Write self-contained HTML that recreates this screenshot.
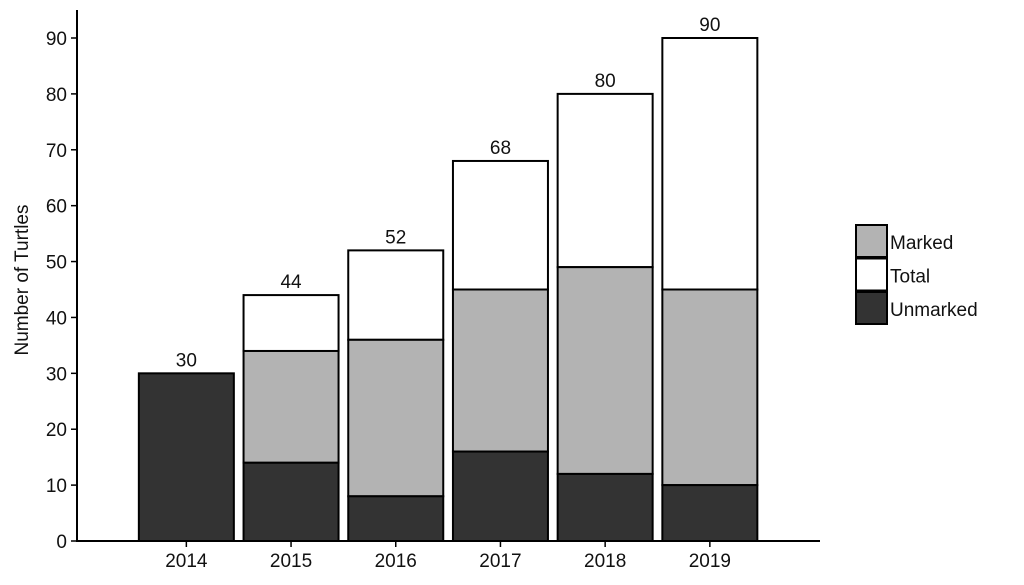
<!DOCTYPE html>
<html><head><meta charset="utf-8"><style>
body{margin:0;background:#fff;}
svg{display:block;font-family:"Liberation Sans",Arial,sans-serif;}
</style></head><body>
<svg id="chart" width="1024" height="585" viewBox="0 0 1024 585">
<g id="bars"></g>
<g id="axes"></g>
<g id="legend"></g>
</svg>
<script>
const years=["2014","2015","2016","2017","2018","2019"];
const unmarked=[30,14,8,16,12,10];
const marked=[0,20,28,29,37,35];
const totals=[30,44,52,68,80,90];
const yTicks=[0,10,20,30,40,50,60,70,80,90];
const NS="http://www.w3.org/2000/svg";
const y0=541,y90=38;
function y(v){return y0-(y0-y90)*v/90;}
const bandStart=134,bandW=104.7,barW=95;
function xc(i){return bandStart+bandW*(i+0.5);}
function mk(tag,attrs,parent,text){const e=document.createElementNS(NS,tag);for(const k in attrs)e.setAttribute(k,attrs[k]);if(text!==undefined)e.textContent=text;parent.appendChild(e);return e;}
const bars=document.getElementById('bars'),axes=document.getElementById('axes'),legend=document.getElementById('legend');
function rect(x,v0,v1,fill,name){
 const r=mk('rect',{x:x,y:y(v1),width:barW,height:y(v0)-y(v1),fill:fill,stroke:'#000','stroke-width':2},bars);
 
 
}
years.forEach((yr,i)=>{
 const x=xc(i)-barW/2;
 const mTop=unmarked[i]+marked[i];
 if(totals[i]>mTop) rect(x,mTop,totals[i],'#ffffff','bar-total-'+yr);
 if(marked[i]>0) rect(x,unmarked[i],mTop,'#b3b3b3','bar-marked-'+yr);
 rect(x,0,unmarked[i],'#333333','bar-unmarked-'+yr);
 const t=mk('text',{x:xc(i),y:y(totals[i])-7,'text-anchor':'middle','font-size':19,fill:'#111'},bars,String(totals[i]));
 
 
 const tk=mk('line',{x1:xc(i),x2:xc(i),y1:y0,y2:y0+6,stroke:'#000','stroke-width':1.5},axes);
 
 
 const lb=mk('text',{x:xc(i),y:567,'text-anchor':'middle','font-size':19,fill:'#111'},axes,yr);
 
 
});
yTicks.forEach(v=>{
 const tk=mk('line',{x1:71,x2:77,y1:y(v),y2:y(v),stroke:'#000','stroke-width':1.5},axes);
 
 
 const lb=mk('text',{x:67,y:y(v)+7,'text-anchor':'end','font-size':19,fill:'#111'},axes,String(v));
 
 
});
const ya=mk('line',{x1:77,x2:77,y1:10,y2:y0+1,stroke:'#000','stroke-width':2},axes);


const xa=mk('line',{x1:76,x2:820,y1:y0,y2:y0,stroke:'#000','stroke-width':2},axes);


const yt=mk('text',{x:0,y:0,transform:'translate(28,280) rotate(-90)','text-anchor':'middle','font-size':19,fill:'#111'},axes,'Number of Turtles');


const leg=[["Marked","#b3b3b3"],["Total","#ffffff"],["Unmarked","#333333"]];
leg.forEach((l,i)=>{
 const top=225+i*33.5;
 const r=mk('rect',{x:856,y:top,width:31,height:32,fill:l[1],stroke:'#000','stroke-width':2},legend);
 
 
 const t=mk('text',{x:890,y:top+24,'font-size':19,fill:'#111'},legend,l[0]);
 
 
});
</script>
</body></html>
